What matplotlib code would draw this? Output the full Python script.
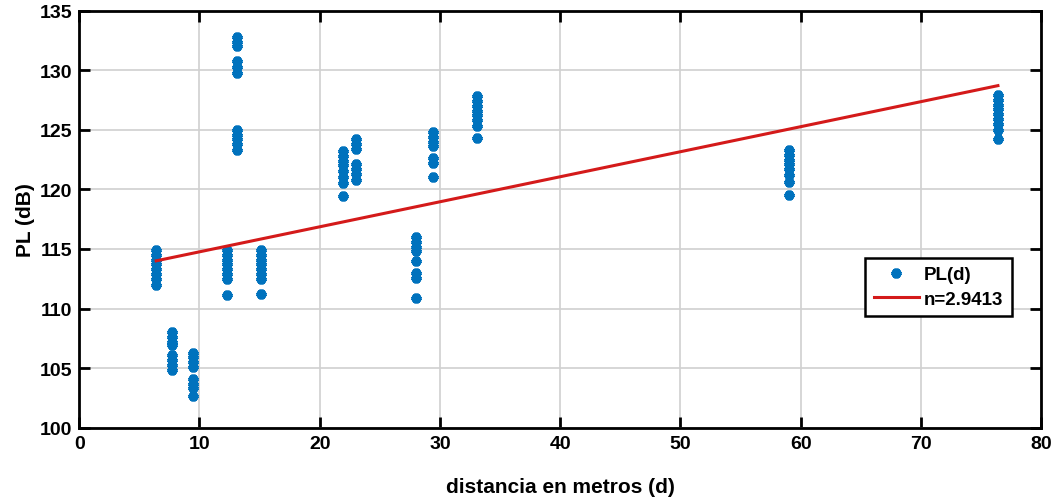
import numpy as np
import matplotlib.pyplot as plt

# measured distances (m) and path loss (dB), one list per measurement spot
dist = [6.4, 7.7, 9.5, 12.3, 13.1, 15.1, 21.9, 23.0, 28.0, 29.45, 33.05, 59.0, 76.4]
pl = [
    [114.9, 114.5, 114.1, 113.7, 113.3, 112.9, 112.5, 112.0],
    [108.0, 107.6, 107.2, 106.9, 106.1, 105.7, 105.3, 104.8],
    [106.3, 105.9, 105.5, 105.1, 104.1, 103.7, 103.3, 102.7],
    [114.9, 114.5, 114.1, 113.7, 113.3, 112.9, 112.5, 111.1],
    [132.8, 132.4, 132.0, 130.8, 130.3, 129.8, 125.0, 124.6, 124.2, 123.8, 123.3],
    [114.9, 114.5, 114.1, 113.7, 113.3, 112.9, 112.5, 111.2],
    [123.2, 122.8, 122.4, 122.0, 121.5, 121.0, 120.5, 119.4],
    [124.2, 123.8, 123.4, 122.1, 121.7, 121.3, 120.8],
    [116.0, 115.6, 115.2, 114.8, 114.0, 113.0, 112.6, 110.9],
    [124.8, 124.4, 124.0, 123.6, 122.6, 122.2, 121.0],
    [127.8, 127.4, 127.0, 126.6, 126.2, 125.8, 125.3, 124.3],
    [123.3, 122.9, 122.5, 122.1, 121.7, 121.2, 120.6, 119.5],
    [127.9, 127.5, 127.1, 126.7, 126.3, 125.9, 125.5, 125.0, 124.2],
]

# fitted line end points
fit_x = [6.4, 76.4]
fit_y = [114.0, 128.7]

x = np.concatenate([[d] * len(p) for d, p in zip(dist, pl)])
y = np.concatenate(pl)

font = ['Liberation Sans Narrow', 'Liberation Sans', 'DejaVu Sans']

fig = plt.figure(figsize=(10.56, 5.02), dpi=100)
ax = fig.add_axes([0.075, 0.146, 0.911, 0.831])

ax.plot(x, y, linestyle='none', marker=(6, 2, 0), markersize=7,
        markeredgewidth=3.2, color='#0072BD', label='PL(d)')
ax.plot(fit_x, fit_y, color='#D41A1A', linewidth=2.2, label='n=2.9413')

ax.set_xlim(0, 80)
ax.set_ylim(100, 135)
ax.set_xticks(np.arange(0, 81, 10))
ax.set_yticks(np.arange(100, 136, 5))
ax.grid(True, color='#d0d0d0', linewidth=1.2)
ax.set_axisbelow(True)

for s in ax.spines.values():
    s.set_linewidth(2)
ax.tick_params(direction='in', length=8, width=2, top=True, right=True,
               labelsize=14, pad=5)
for lbl in ax.get_xticklabels() + ax.get_yticklabels():
    lbl.set_fontfamily(font)
    lbl.set_fontweight('bold')

ax.set_xlabel('distancia en metros (d)', fontsize=15, fontweight='bold',
              family=font, labelpad=18)
ax.set_ylabel('PL (dB)', fontsize=15, fontweight='bold', family=font,
              labelpad=3)

leg = ax.legend(loc='upper left', bbox_to_anchor=(0.817, 0.408),
                prop={'family': font, 'weight': 'bold', 'size': 13.5},
                fancybox=False, framealpha=1, edgecolor='black',
                handlelength=2.4, borderpad=0.45, labelspacing=0.4,
                handletextpad=0.3, borderaxespad=0)
leg.get_frame().set_linewidth(1.8)

fig.savefig('out.png', dpi=100)
